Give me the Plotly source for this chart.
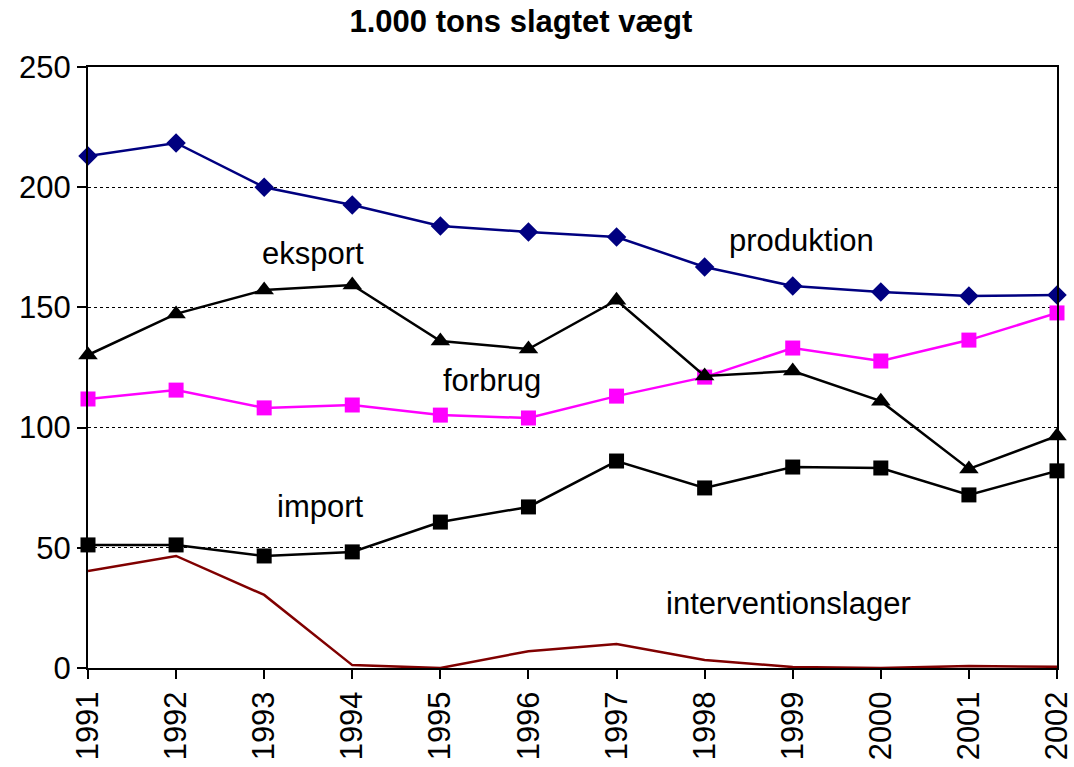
import plotly.graph_objects as go

years = [1991, 1992, 1993, 1994, 1995, 1996, 1997, 1998, 1999, 2000, 2001, 2002]
produktion = [213, 218.4, 200, 192.6, 183.9, 181.4, 179.3, 166.8, 158.9, 156.4, 154.7, 155.2]
eksport = [130.2, 147.3, 157.2, 159.3, 136.0, 132.7, 153.0, 121.5, 123.5, 111.0, 82.8, 96.5]
forbrug = [111.9, 115.6, 108.2, 109.4, 105.2, 104.0, 113.1, 121.0, 133.1, 127.7, 136.4, 147.7]
import_ = [51.2, 51.2, 46.6, 48.3, 60.7, 67.0, 86.1, 74.9, 83.6, 83.2, 72.0, 82.0]
intervention = [40.3, 46.6, 30.4, 1.2, 0.0, 7.0, 10.0, 3.3, 0.4, 0.0, 0.8, 0.5]

labels = ["produktion", "eksport", "forbrug", "import", "interventionslager"]
label_x = [1999.1, 1993.55, 1995.59, 1993.64, 1998.95]
label_y = [178, 172.6, 119.8, 67, 27]

font = "Arial, Liberation Sans, sans-serif"
fig = go.Figure()
fig.add_trace(go.Scatter(x=years, y=intervention, mode="lines",
                         line=dict(color="#800000", width=2.5), cliponaxis=False))
fig.add_trace(go.Scatter(x=years, y=import_, mode="lines+markers",
                         line=dict(color="black", width=2.5),
                         marker=dict(symbol="square", size=15, color="black"), cliponaxis=False))
fig.add_trace(go.Scatter(x=years, y=forbrug, mode="lines+markers",
                         line=dict(color="#FF00FF", width=2.5),
                         marker=dict(symbol="square", size=15, color="#FF00FF"), cliponaxis=False))
fig.add_trace(go.Scatter(x=years, y=eksport, mode="lines+markers",
                         line=dict(color="black", width=2.5),
                         marker=dict(symbol="triangle-up", size=17, color="black"), cliponaxis=False))
fig.add_trace(go.Scatter(x=years, y=produktion, mode="lines+markers",
                         line=dict(color="#000080", width=2.5),
                         marker=dict(symbol="diamond", size=15, color="#000080"), cliponaxis=False))

for t, x, y in zip(labels, label_x, label_y):
    fig.add_annotation(x=x, y=y, text=t, showarrow=False,
                       font=dict(family=font, size=31, color="black"))

fig.update_layout(
    width=1074, height=767,
    paper_bgcolor="white", plot_bgcolor="white",
    showlegend=False,
    margin=dict(l=88, r=17, t=67, b=99, autoexpand=False),
    title=dict(text="<b>1.000 tons slagtet vægt</b>", x=0.485, xanchor="center",
               y=0.972, yanchor="middle", font=dict(family=font, size=31, color="black")),
    font=dict(family=font, size=31, color="black"),
)
fig.update_xaxes(range=[1991, 2002], tickmode="array", tickvals=years,
                 ticktext=[str(y) for y in years], tickangle=-90,
                 ticks="outside", ticklen=9, tickcolor="black", tickwidth=1.5,
                 showline=True, linecolor="black", linewidth=2, mirror=True,
                 showgrid=False, zeroline=False, automargin=False,
                 ticklabeloverflow="allow",
                 tickfont=dict(family=font, size=31, color="black"))
fig.update_yaxes(range=[0, 250], tickvals=[0, 50, 100, 150, 200, 250],
                 ticks="outside", ticklen=9, tickcolor="black", tickwidth=1.5,
                 showline=True, linecolor="black", linewidth=2, mirror=True,
                 showgrid=True, gridcolor="black", gridwidth=1, griddash="dot",
                 zeroline=False, automargin=False,
                 ticklabeloverflow="allow",
                 tickfont=dict(family=font, size=31, color="black"))

# remove the default 8px page margin so the figure fills the window exactly
fig.write_html("out.html", config={"displayModeBar": False},
               post_script="document.body.style.margin='0';")
